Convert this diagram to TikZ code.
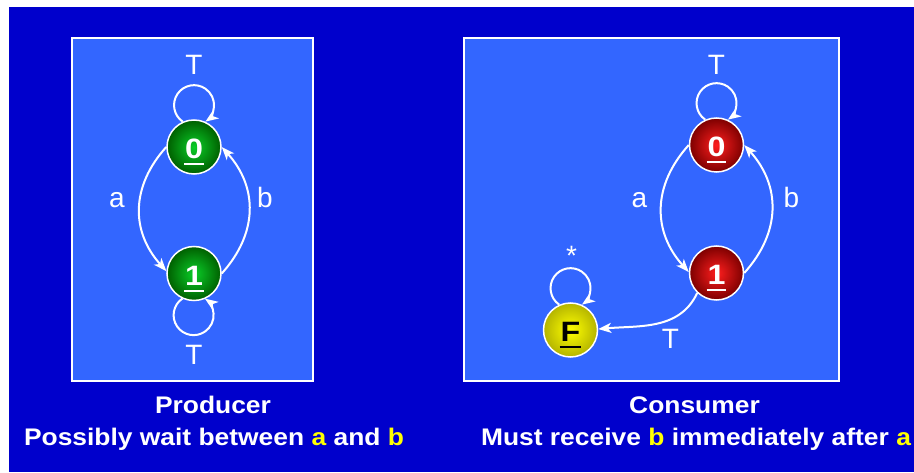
\documentclass[tikz,border=0pt]{standalone}
\usepackage{fontspec}
\usepackage{graphicx}
\setmainfont{Liberation Sans}
\usetikzlibrary{arrows.meta}
\definecolor{bgblue}{HTML}{0000CC}
\definecolor{boxblue}{HTML}{3366FF}
\definecolor{hiyellow}{HTML}{FFFF00}
\newcommand\uldigit[2]{\setbox0\hbox{\scalebox{1.15}[1]{#2}}\rlap{\smash{\hskip-1pt\raisebox{-6.5pt}{\color{#1}\rule{\dimexpr\wd0+2pt\relax}{2.4pt}}}}\box0}
\newcommand\capt[1]{\scalebox{1.1}[1]{#1}}
\newcommand\hl[1]{\textcolor{hiyellow}{#1}}
\tikzset{
  statenode/.style={circle, minimum size=54pt, inner sep=0pt, draw=white, line width=1.5pt,
    text height=24pt, text depth=0pt, font=\bfseries\fontsize{28}{28}\selectfont},
  greenst/.style={statenode, inner color={rgb,255:red,10;green,205;blue,40}, outer color={rgb,255:red,0;green,95;blue,0}, text=white},
  redst/.style={statenode, inner color={rgb,255:red,255;green,30;blue,30}, outer color={rgb,255:red,125;green,0;blue,0}, text=white},
  yellowst/.style={statenode, inner color={rgb,255:red,255;green,255;blue,0}, outer color={rgb,255:red,180;green,180;blue,0}, text=black},
  edge/.style={draw=white, line width=2pt, -{Stealth[length=13pt,width=10pt,inset=3.5pt]}},
  elabel/.style={text=white, font=\fontsize{28}{28}\selectfont, inner sep=0pt, anchor=base},
  caption/.style={text=white, font=\bfseries\fontsize{24}{24}\selectfont, inner sep=0pt, anchor=base},
  panel/.style={fill=boxblue, draw=white, line width=2pt}
}
\begin{document}
\begin{tikzpicture}[x=1pt,y=1pt]
\useasboundingbox (0,0) rectangle (914,472);
\fill[white] (0,0) rectangle (914,472);
\fill[bgblue] (9,0) rectangle (914,465);
\draw[panel] (72,91) rectangle (313,434);
\draw[panel] (464,91) rectangle (839,434);

% Producer
\node[greenst] (L0) at (194,325) {\uldigit{white}{0}};
\node[greenst] (L1) at (194,198.5) {\uldigit{white}{1}};
\draw[edge] (L0.114.9) arc[start angle=235.5, end angle=-55.5, radius=20];
\draw[edge] (L1.245.1) arc[start angle=124.5, end angle=415.5, radius=20];
\draw[edge] (L0.180) to[out=228, in=132, looseness=1.1] (L1.175);
\draw[edge] (L1.0) to[out=48, in=-48, looseness=1.1] (L0.0);
\node[elabel] (lt1) at (194,397) {T};
\node[elabel] (lt2) at (194,107) {T};
\node[elabel] (la) at (117,264) {a};
\node[elabel] (lb) at (265,264) {b};

% Consumer
\node[redst] (R0) at (716.5,327) {\uldigit{white}{0}};
\node[redst] (R1) at (716.5,199) {\uldigit{white}{1}};
\node[yellowst] (F) at (570.5,142) {\uldigit{black}{F}};
\draw[edge] (R0.114.9) arc[start angle=235.5, end angle=-55.5, radius=20];
\draw[edge] (F.114.9) arc[start angle=235.5, end angle=-55.5, radius=20];
\draw[edge] (R0.180) to[out=228, in=132, looseness=1.1] (R1.178);
\draw[edge] (R1.0) to[out=48, in=-48, looseness=1.1] (R0.0);
\draw[edge] (R1.226) to[out=245, in=5] (F.2);
\node[elabel] (rt1) at (716.5,397) {T};
\node[elabel] (ra) at (639.5,264) {a};
\node[elabel] (rb) at (791.5,264) {b};
\node[elabel] (rstar) at (571.5,206) {*};
\node[elabel] (rt2) at (670.5,124) {T};

% Captions
\node[caption] (c1) at (213,59) {\capt{Producer}};
\node[caption] (c2) at (214,27) {\capt{Possibly wait between \hl{a} and \hl{b}}};
\node[caption] (c3) at (694.5,59) {\capt{Consumer}};
\node[caption] (c4) at (696,27) {\capt{Must receive \hl{b} immediately after \hl{a}}};
\end{tikzpicture}
\end{document}
